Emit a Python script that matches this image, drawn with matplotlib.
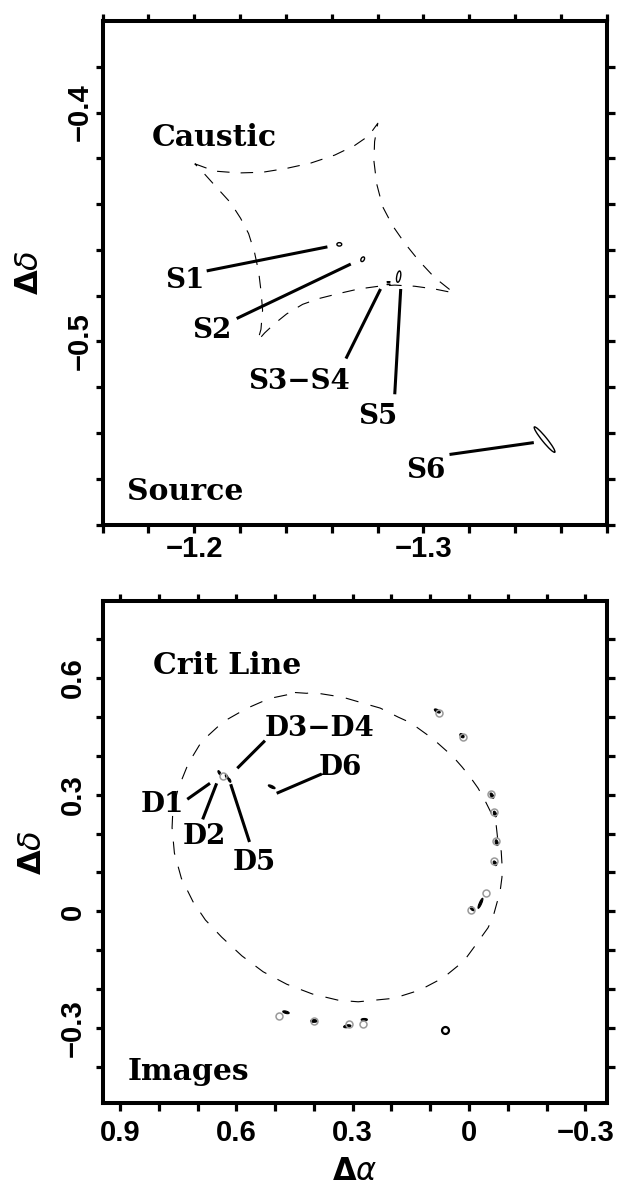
import numpy as np
import matplotlib
matplotlib.use('Agg')
from matplotlib import pyplot as plt
from matplotlib.patches import Ellipse

plt.rcParams['lines.scale_dashes'] = False
plt.rcParams['mathtext.fontset'] = 'dejavusans'

# ---- source plane (top) ----
caustic_x = [-1.2002, -1.2089, -1.2194, -1.2298, -1.2403, -1.2508, -1.2613, -1.2700, -1.2761, -1.2801,
             -1.2787, -1.2784, -1.2796, -1.2822, -1.2866, -1.2918, -1.2979, -1.3049, -1.3133,
             -1.3049, -1.2962, -1.2875, -1.2805, -1.2717, -1.2630, -1.2543, -1.2473, -1.2403, -1.2351,
             -1.2307, -1.2277,
             -1.2291, -1.2298, -1.2291, -1.2281, -1.2263, -1.2237, -1.2202, -1.2159, -1.2098, -1.2045,
             -1.2002]
caustic_y = [-0.4224, -0.4256, -0.4264, -0.4261, -0.4244, -0.4221, -0.4186, -0.4144, -0.4102, -0.4047,
             -0.4127, -0.4211, -0.4311, -0.4411, -0.4495, -0.4570, -0.4646, -0.4721, -0.4788,
             -0.4771, -0.4759, -0.4754, -0.4759, -0.4771, -0.4791, -0.4813, -0.4838, -0.4880, -0.4922,
             -0.4963, -0.4997,
             -0.4947, -0.4863, -0.4779, -0.4696, -0.4612, -0.4529, -0.4462, -0.4395, -0.4328, -0.4269,
             -0.4224]

src_x = [-1.2633, -1.2735, -1.2848, -1.2848, -1.2892, -1.3529]
src_y = [-0.4576, -0.4641, -0.4740, -0.4751, -0.4717, -0.5429]
src_w = [0.0021, 0.0022, 0.0015, 0.0015, 0.0050, 0.0142]
src_h = [0.0015, 0.0014, 0.0001, 0.0001, 0.0017, 0.0021]
src_ang = [0, 120, 0, 0, 100, 51]

# ---- image plane (bottom) ----
crit_x = [0.449, 0.419, 0.402, 0.326, 0.264, 0.229, 0.209, 0.183, 0.150, 0.121, 0.093, 0.067, 0.041,
          0.018, -0.003, -0.023, -0.039, -0.057, -0.070, -0.075, -0.083, -0.085, -0.085, -0.080,
          -0.072, -0.062, -0.049, -0.018, 0.013, 0.066, 0.127, 0.194, 0.286, 0.337, 0.404, 0.470,
          0.531, 0.586, 0.638, 0.680, 0.712, 0.742, 0.760, 0.766, 0.764, 0.758, 0.750, 0.724, 0.690,
          0.634, 0.574, 0.535, 0.513, 0.470, 0.449]
crit_y = [0.562, 0.560, 0.562, 0.550, 0.532, 0.522, 0.512, 0.499, 0.484, 0.463, 0.443, 0.420, 0.397,
          0.371, 0.345, 0.317, 0.289, 0.253, 0.222, 0.176, 0.155, 0.122, 0.088, 0.050,
          0.022, -0.014, -0.042, -0.085, -0.127, -0.170, -0.202, -0.223, -0.232, -0.228, -0.212, -0.187,
          -0.155, -0.114, -0.066, -0.022, 0.025, 0.085, 0.150, 0.215, 0.260, 0.286, 0.316, 0.380, 0.436,
          0.487, 0.521, 0.538, 0.547, 0.556, 0.562]

obs_x = [0.0775, 0.0164, -0.0566, -0.0643, -0.0695, -0.0635, -0.0429, -0.0050,
         0.4902, 0.4000, 0.3097, 0.2728, 0.6355]
obs_y = [0.5087, 0.4486, 0.3008, 0.2561, 0.1816, 0.1295, 0.0481, 0.0037,
         -0.2676, -0.2812, -0.2881, -0.2897, 0.3477]

img_x = [0.0819, 0.0182, -0.0592, -0.0669, -0.0713, -0.0669, -0.0295, -0.0084,
         0.4722, 0.4000, 0.3141, 0.2702, 0.644, 0.625, 0.618, 0.509]
img_y = [0.5146, 0.4512, 0.2972, 0.2502, 0.1765, 0.1236, 0.0209, 0.0071,
         -0.2589, -0.2812, -0.2948, -0.2778, 0.356, 0.346, 0.337, 0.320]
img_w = [0.017, 0.013, 0.015, 0.015, 0.015, 0.013, 0.028, 0.013,
         0.017, 0.017, 0.019, 0.016, 0.012, 0.012, 0.012, 0.019]
img_h = [0.007, 0.008, 0.007, 0.007, 0.007, 0.007, 0.006, 0.007,
         0.006, 0.007, 0.007, 0.006, 0.005, 0.005, 0.005, 0.006]
img_ang = [30, 45, 60, 70, 75, 60, 114, 45, 15, 0, 170, 0, 60, 60, 60, 25]

extra_x = [0.062]
extra_y = [-0.304]

# label: (text x, text y, line start, line end)
top_labels = {
    'S1': ((-1.1958, -0.4733), (-1.2054, -0.4692), (-1.2581, -0.4587)),
    'S2': ((-1.2078, -0.4954), (-1.2185, -0.4900), (-1.2683, -0.4662)),
    'S3\u2212S4': ((-1.2456, -0.5173), (-1.2662, -0.5075), (-1.2813, -0.4771)),
    'S5': ((-1.2800, -0.5330), (-1.2875, -0.5231), (-1.2901, -0.4771)),
    'S6': ((-1.3010, -0.5562), (-1.3114, -0.5494), (-1.3482, -0.5442)),
}
bot_labels = {
    'D1': ((0.7908, 0.2733), (0.7268, 0.2879), (0.6682, 0.3290)),
    'D2': ((0.6819, 0.1911), (0.6871, 0.2363), (0.6510, 0.3288)),
    'D3\u2212D4': ((0.3845, 0.4684), (0.5264, 0.4384), (0.5978, 0.3675)),
    'D5': ((0.5529, 0.1244), (0.5663, 0.1783), (0.6148, 0.3267)),
    'D6': ((0.3329, 0.3683), (0.3801, 0.3529), (0.4962, 0.3033)),
}

lab_font = dict(family='DejaVu Serif', fontweight='bold', fontsize=20)
big_font = dict(family='DejaVu Serif', fontweight='bold', fontsize=21.5)
tick_font = dict(family='Liberation Sans', weight='bold', size=21)

fig = plt.figure(figsize=(6.28, 11.91), dpi=100)
ax1 = fig.add_axes([0.1635, 0.5596, 0.8025, 0.4228])
ax2 = fig.add_axes([0.1635, 0.0735, 0.8025, 0.4219])

for ax in (ax1, ax2):
    for s in ax.spines.values():
        s.set_linewidth(2.9)
    ax.tick_params(which='both', direction='out', top=True, right=True,
                   length=5.4, width=2.3)

# top panel
ax1.plot(caustic_x, caustic_y, color='black', lw=0.8, dashes=(9, 8))
for x, y, w, h, a in zip(src_x, src_y, src_w, src_h, src_ang):
    ax1.add_patch(Ellipse((x, y), w, h, angle=a, fill=False, ec='black', lw=1.0))
for name, (tpos, p0, p1) in top_labels.items():
    ax1.text(tpos[0], tpos[1], name, ha='center', va='center', **lab_font)
    ax1.plot([p0[0], p1[0]], [p0[1], p1[1]], color='black', lw=2.2, solid_capstyle='butt')
ax1.text(0.098, 0.768, 'Caustic', transform=ax1.transAxes, ha='left', va='center', **big_font)
ax1.text(0.049, 0.065, 'Source', transform=ax1.transAxes, ha='left', va='center', **big_font)

ax1.set_xlim(-1.16, -1.38)
ax1.set_ylim(-0.58, -0.36)
xt1 = np.round(np.arange(-1.16, -1.381, -0.02), 2)
ax1.set_xticks(xt1)
ax1.set_xticklabels(['\u22121.2' if abs(v + 1.2) < 1e-6 else '\u22121.3' if abs(v + 1.3) < 1e-6 else ''
                     for v in xt1], fontdict=tick_font)
yt1 = np.round(np.arange(-0.38, -0.581, -0.02), 2)
ax1.set_yticks(yt1)
ax1.set_yticklabels(['\u22120.4' if abs(v + 0.4) < 1e-6 else '\u22120.5' if abs(v + 0.5) < 1e-6 else ''
                     for v in yt1], fontdict=tick_font, rotation=90, va='center')
ax1.tick_params(axis='x', pad=2)
ax1.tick_params(axis='y', pad=1)
ax1.set_ylabel(r'$\mathbf{\Delta}\delta$', fontsize=23, fontweight='bold', labelpad=15)

# bottom panel
ax2.plot(crit_x, crit_y, color='black', lw=0.8, dashes=(9.5, 9))
ax2.plot(obs_x, obs_y, 'o', ms=5.0, mfc='none', mec='#9a9a9a', mew=1.1)
for x, y, w, h, a in zip(img_x, img_y, img_w, img_h, img_ang):
    ax2.add_patch(Ellipse((x, y), w, h, angle=a, fc='black', ec='black', lw=0.8))
ax2.plot(extra_x, extra_y, 'o', ms=5.0, mfc='none', mec='black', mew=1.6)
for name, (tpos, p0, p1) in bot_labels.items():
    ax2.text(tpos[0], tpos[1], name, ha='center', va='center', **lab_font)
    ax2.plot([p0[0], p1[0]], [p0[1], p1[1]], color='black', lw=2.2, solid_capstyle='butt')
ax2.text(0.1, 0.872, 'Crit Line', transform=ax2.transAxes, ha='left', va='center', **big_font)
ax2.text(0.049, 0.064, 'Images', transform=ax2.transAxes, ha='left', va='center', **big_font)

ax2.set_xlim(0.945, -0.355)
ax2.set_ylim(-0.493, 0.797)
xt2 = np.round(np.arange(0.9, -0.31, -0.1), 1)
ax2.set_xticks(xt2)
xl2 = {0.9: '0.9', 0.6: '0.6', 0.3: '0.3', 0.0: '0', -0.3: '\u22120.3'}
ax2.set_xticklabels([xl2.get(float(v), '') for v in xt2], fontdict=tick_font)
yt2 = np.round(np.arange(-0.4, 0.71, 0.1), 1)
ax2.set_yticks(yt2)
yl2 = {0.6: '0.6', 0.3: '0.3', 0.0: '0', -0.3: '\u22120.3'}
ax2.set_yticklabels([yl2.get(float(v), '') for v in yt2], fontdict=tick_font, rotation=90, va='center')
ax2.tick_params(axis='x', pad=6)
ax2.tick_params(axis='y', pad=6)
ax2.set_ylabel(r'$\mathbf{\Delta}\delta$', fontsize=23, fontweight='bold', labelpad=8)
ax2.set_xlabel(r'$\mathbf{\Delta}\alpha$', fontsize=22, fontweight='bold', labelpad=7)

fig.savefig('out.png', dpi=100)
